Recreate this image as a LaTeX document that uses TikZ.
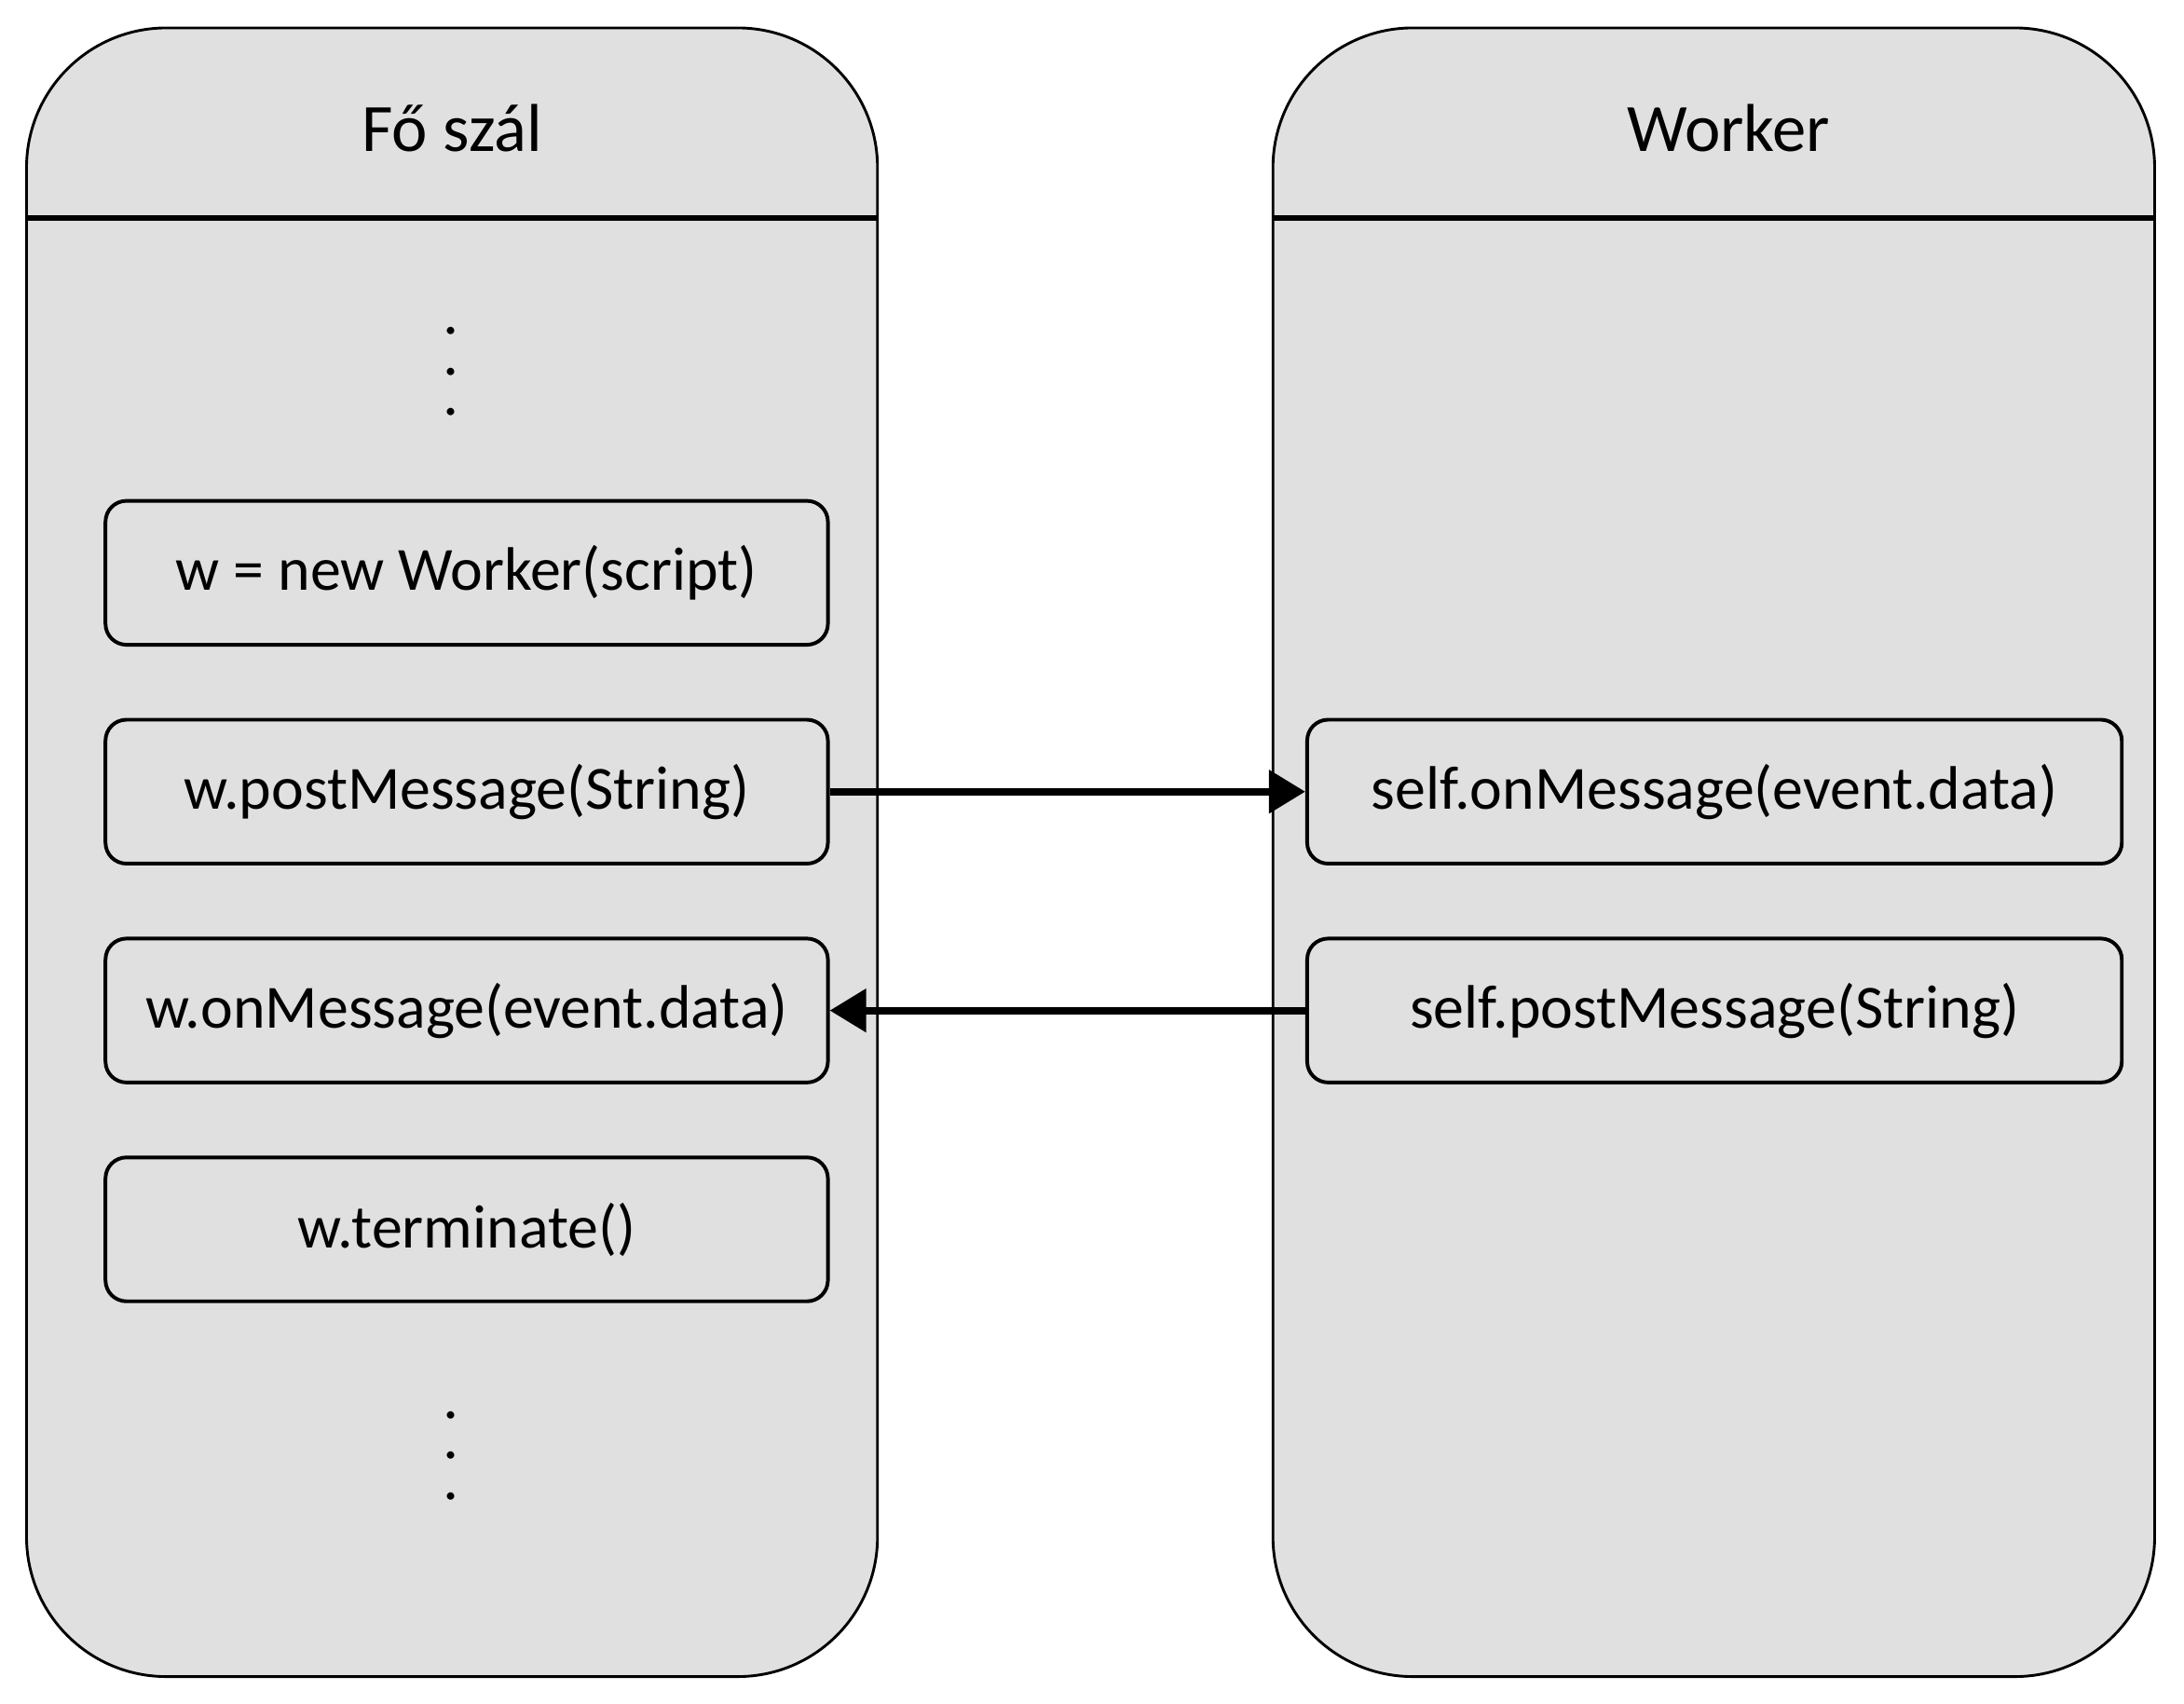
\documentclass[tikz,border=0pt]{standalone}
\usepackage{fontspec}
\setmainfont{Carlito}
\usepackage{tikz}
\usetikzlibrary{arrows.meta,positioning,calc}
\definecolor{lanegray}{HTML}{E0E0E0}

\begin{document}
\begin{tikzpicture}
	\tikzstyle{lane} = [rectangle, rounded corners=1cm, minimum height=11.8cm, draw=black, line width=0.55pt, fill=lanegray]
	\tikzstyle{title} = [font=\fontsize{13.8}{16}\selectfont]
	\tikzstyle{stepbox} = [rectangle, rounded corners=0.15cm, minimum width=5.17cm, minimum height=1.03cm, text centered, draw=black, line width=0.75pt, fill=lanegray, font=\fontsize{12.5}{15}\selectfont]
	\tikzstyle{dots} = [rotate=90, inner sep=0pt, font=\fontsize{12.5}{15}\selectfont]
	\tikzstyle{flow} = [-{Triangle[length=2.6mm,width=3mm]}, line width=1.5pt]
	\useasboundingbox (0,0) rectangle (15.63,12.19);

	% lanes
	\node (mainlane) [lane, minimum width=6.09cm] at (3.235,6.09) {};
	\node (workerlane) [lane, minimum width=6.31cm] at (12.265,6.09) {};
	\draw [line width=1pt] ($(mainlane.north west)+(0,-1.37)$) -- ($(mainlane.north east)+(0,-1.37)$);
	\draw [line width=1pt] ($(workerlane.north west)+(0,-1.37)$) -- ($(workerlane.north east)+(0,-1.37)$);
	\node (maintitle) [title] at (3.235,11.27) {Fő szál};
	\node (workertitle) [title] at (12.37,11.27) {Worker};

	% main thread
	\node (topdots) [dots] at (3.23,9.53) {.\hspace{5.1pt}.\hspace{5.1pt}.};
	\node (create) [stepbox] at (3.34,8.09) {w = new Worker(script)};
	\node (post) [stepbox, below=0.51cm of create] {w.postMessage(String)};
	\node (onmsg) [stepbox, below=0.51cm of post] {w.onMessage(event.data)};
	\node (term) [stepbox, below=0.51cm of onmsg] {w.terminate()};
	\node (botdots) [dots] at (3.23,1.77) {.\hspace{5.1pt}.\hspace{5.1pt}.};

	% worker
	\node (selfon) [stepbox, minimum width=5.83cm] at (12.27,0 |- post) {self.onMessage(event.data)};
	\node (selfpost) [stepbox, minimum width=5.83cm] at (12.27,0 |- onmsg) {self.postMessage(String)};

	\draw [flow] (post.east) -- (selfon.west);
	\draw [flow] (selfpost.west) -- (onmsg.east);
\end{tikzpicture}
\end{document}
